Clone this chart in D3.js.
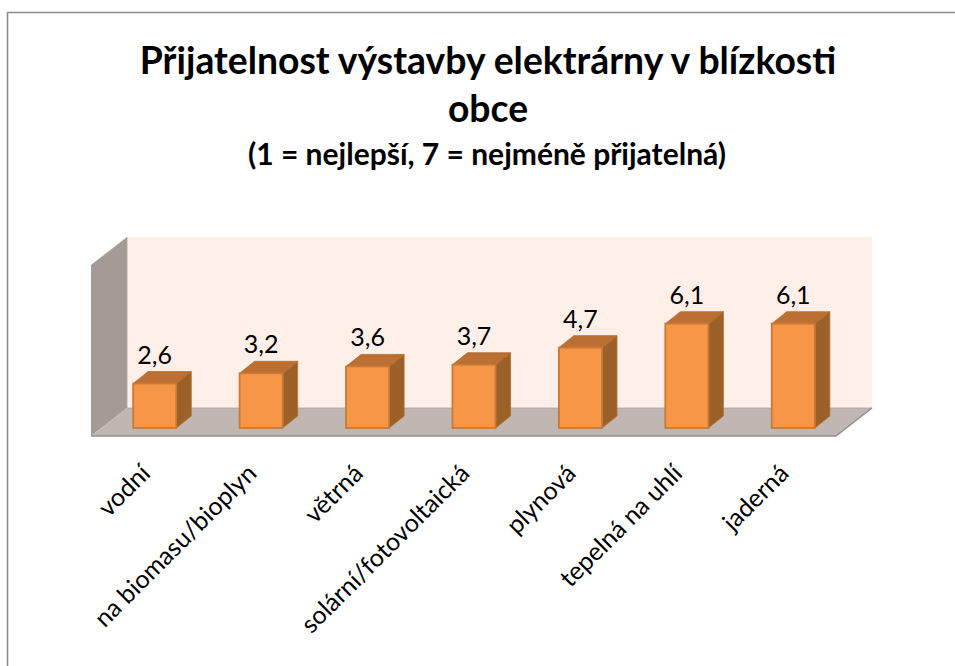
<!DOCTYPE html>
<html><head><meta charset="utf-8">
<script src="https://cdn.jsdelivr.net/npm/d3@7"></script>
<style>html,body{margin:0;padding:0;background:#fff}svg{display:block}text{font-family:Lato,"Open Sans",sans-serif}</style>
</head><body><div id="c"></div>
<script>
const categories=["vodní","na biomasu/bioplyn","větrná","solární/fotovoltaická","plynová","tepelná na uhlí","jaderná"];
const values=[2.6,3.2,3.6,3.7,4.7,6.1,6.1];
const valueLabels=["2,6","3,2","3,6","3,7","4,7","6,1","6,1"];
const titleLines=["Přijatelnost výstavby elektrárny v blízkosti","obce"];
const subtitle="(1 = nejlepší, 7 = nejméně přijatelná)";

const W=955,H=666;
const svg=d3.select("#c").append("svg").attr("width",W).attr("height",H);
svg.append("path").attr("d",`M7.5,${H}V12.5H${W}`).attr("fill","none").attr("stroke","#8c8c8c").attr("stroke-width",1.6);

const x=d3.scaleBand().domain(categories).range([91,836]).paddingInner(.595).paddingOuter(.2975);
const y=d3.scaleLinear().domain([0,10]).range([436,265]);
const D={x:36,y:28}, B={x:15,y:12}, off={x:10.5,y:8};

// walls
svg.append("rect").attr("x",x.range()[0]+D.x).attr("y",y(10)-D.y).attr("width",x.range()[1]-x.range()[0]).attr("height",y(0)-y(10)).attr("fill","#fef0e9");
svg.append("path").attr("d",`M91,${y(0)}V${y(10)}L${91+D.x},${y(10)-D.y}V${y(0)-D.y}Z`)
  .attr("fill","#a49b96");
svg.append("path").attr("d",`M91,${y(0)}H836L${836+D.x},${y(0)-D.y}H${91+D.x}Z`).attr("fill","#c0b6b2");
svg.append("path").attr("d",`M91,${y(0)}H836L${836+D.x},${y(0)-D.y}`).attr("fill","none").attr("stroke","#909090").attr("stroke-width",1.5);
svg.append("path").attr("d",`M${91+D.x},${y(10)-D.y}V${y(0)-D.y}H${836+D.x}`).attr("fill","none").attr("stroke","#a8a29e").attr("stroke-width",.8);

// bars
const g=svg.append("g").attr("transform",`translate(${off.x},${-off.y})`);
const bw=x.bandwidth();
const bars=g.selectAll("g.bar").data(values).join("g").attr("class","bar");
bars.append("path").attr("d",(d,i)=>{const a=x(categories[i]),t=y(d);return `M${a+bw},${t}l${B.x},${-B.y}V${y(0)-B.y}l${-B.x},${B.y}Z`}).attr("fill","#9c6029").attr("stroke","#b36f30").attr("stroke-width",.8);
bars.append("path").attr("d",(d,i)=>{const a=x(categories[i]),t=y(d);return `M${a},${t}l${B.x},${-B.y}h${bw}l${-B.x},${B.y}Z`}).attr("fill","#bb6f32").attr("stroke","#b36f30").attr("stroke-width",.8);
bars.append("rect").attr("x",(d,i)=>x(categories[i])).attr("y",d=>y(d)).attr("width",bw).attr("height",d=>y(0)-y(d)).attr("fill","#f79646").attr("stroke","#c97a38").attr("stroke-width",1.8);
bars.append("text").attr("x",(d,i)=>x(categories[i])+bw/2).attr("y",d=>y(d)-B.y-8).attr("text-anchor","middle").attr("font-size",25).attr("fill","#000").text((d,i)=>valueLabels[i]);

// category axis
const ax=svg.append("g").attr("transform",`translate(0,${y(0)})`).call(d3.axisBottom(x).tickSize(0));
ax.select(".domain").remove();
ax.selectAll("text").attr("font-family","Lato").attr("font-size",25).attr("fill","#000").attr("text-anchor","end").attr("dy",0)
  .attr("transform",d=>`translate(${-x.bandwidth()/2+29},39) rotate(-45)`).attr("y",0).attr("x",0);

// title
const t=svg.append("g").attr("text-anchor","middle").attr("font-weight",700).attr("fill","#000");
t.selectAll("text.l").data(titleLines).join("text").attr("class","l").attr("x",488).attr("y",(d,i)=>74+i*48).attr("font-size",37.3).text(d=>d);
t.append("text").attr("x",487).attr("y",165).attr("font-size",30).text(subtitle);
</script></body></html>
